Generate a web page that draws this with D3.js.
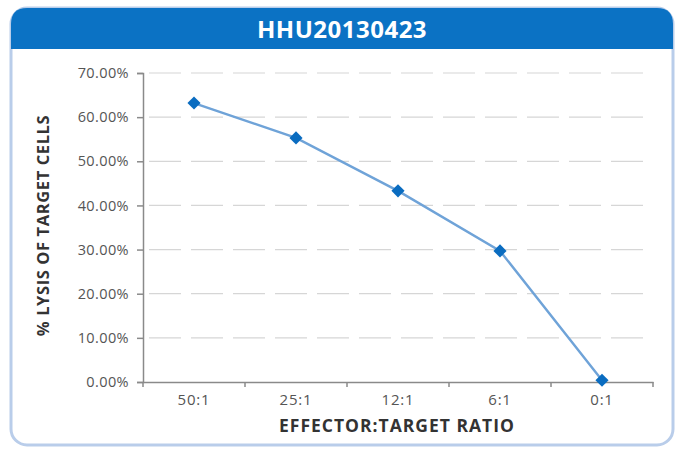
<!DOCTYPE html>
<html>
<head>
<meta charset="utf-8">
<script src="https://cdn.jsdelivr.net/npm/d3@7"></script>
<style>
  html, body { margin: 0; padding: 0; background: #ffffff; }
  svg { display: block; font-family: "Open Sans", "Noto Sans", sans-serif; }
</style>
</head>
<body>
<svg id="chart" width="676" height="450"></svg>
<script>
// Effector:target ratios and measured lysis
const ratios = ["50:1", "25:1", "12:1", "6:1", "0:1"];
const lysis = [0.632, 0.553, 0.433, 0.297, 0.004];
const yTicks = [0, 0.1, 0.2, 0.3, 0.4, 0.5, 0.6, 0.7];
const chartTitle = "HHU20130423";
const xTitle = "EFFECTOR:TARGET RATIO";
const yTitle = "% LYSIS OF TARGET CELLS";

const svg = d3.select("#chart");

// Card with rounded border and blue header
const card = { x: 11, y: 8, w: 662, h: 437, r: 16 };
svg.append("rect")
  .attr("x", card.x).attr("y", card.y)
  .attr("width", card.w).attr("height", card.h)
  .attr("rx", card.r)
  .attr("fill", "#ffffff")
  .attr("stroke", "#b9cdea").attr("stroke-width", 3);

const hb = { x: card.x, y: card.y, w: card.w, h: 41, r: card.r };
svg.append("path")
  .attr("d", `M${hb.x},${hb.y + hb.h} V${hb.y + hb.r} Q${hb.x},${hb.y} ${hb.x + hb.r},${hb.y}
    H${hb.x + hb.w - hb.r} Q${hb.x + hb.w},${hb.y} ${hb.x + hb.w},${hb.y + hb.r} V${hb.y + hb.h} Z`)
  .attr("fill", "#0b72c4");

svg.append("text")
  .attr("x", 342).attr("y", 38)
  .attr("text-anchor", "middle")
  .attr("fill", "#ffffff")
  .attr("font-size", 24).attr("font-weight", "bold")
  .attr("letter-spacing", 0.5)
  .text(chartTitle);

// Plot area
const plot = { left: 143, right: 653, top: 73, bottom: 382 };

const x = d3.scaleBand().domain(ratios).range([plot.left, plot.right]);
const y = d3.scaleLinear().domain([0, 0.7]).range([plot.bottom, plot.top]);

// Dashed horizontal gridlines
svg.append("g")
  .selectAll("line")
  .data(yTicks.filter(d => d > 0))
  .join("line")
  .attr("x1", plot.left + 6).attr("x2", plot.right)
  .attr("y1", d => y(d)).attr("y2", d => y(d))
  .attr("stroke", "#d6d6d6").attr("stroke-width", 1.2)
  .attr("stroke-dasharray", "32,10");

// Y axis
const yAxis = svg.append("g")
  .attr("transform", `translate(${plot.left},0)`)
  .call(d3.axisLeft(y).tickValues(yTicks).tickFormat(d3.format(".2%")).tickSize(6).tickPadding(8));
yAxis.select(".domain").attr("stroke", "#8a8a8a").attr("stroke-width", 1.5);
yAxis.selectAll(".tick line").attr("stroke", "#8a8a8a").attr("stroke-width", 1.5);
yAxis.selectAll(".tick text")
  .attr("fill", "#555555").attr("font-size", 14.5).attr("letter-spacing", 0.4)
  .attr("font-family", "\"Open Sans\", sans-serif");

// X axis with boundary ticks between categories
const xAxis = svg.append("g")
  .attr("transform", `translate(0,${plot.bottom})`)
  .call(d3.axisBottom(x).tickSize(0).tickPadding(12));
xAxis.select(".domain").attr("stroke", "#8a8a8a").attr("stroke-width", 1.5);
xAxis.selectAll(".tick text")
  .attr("fill", "#555555").attr("font-size", 15).attr("letter-spacing", 0.8)
  .attr("font-family", "\"Open Sans\", sans-serif");

const boundaries = ratios.map(r => x(r)).concat([x(ratios[ratios.length - 1]) + x.bandwidth()]);
svg.append("g")
  .selectAll("line")
  .data(boundaries)
  .join("line")
  .attr("x1", d => d).attr("x2", d => d)
  .attr("y1", plot.bottom).attr("y2", plot.bottom + 5)
  .attr("stroke", "#8a8a8a").attr("stroke-width", 1.5);

// Axis titles
svg.append("text")
  .attr("x", 397).attr("y", 432)
  .attr("text-anchor", "middle")
  .attr("fill", "#333333")
  .attr("font-size", 17.5).attr("font-weight", "bold")
  .attr("letter-spacing", 1)
  .text(xTitle);

svg.append("text")
  .attr("transform", `translate(49,${(plot.top + plot.bottom) / 2 - 2}) rotate(-90)`)
  .attr("text-anchor", "middle")
  .attr("fill", "#333333")
  .attr("font-size", 16.5).attr("font-weight", "bold")
  .attr("letter-spacing", 0.6)
  .text(yTitle);

// Series line and diamond markers
const pts = ratios.map((r, i) => [x(r) + x.bandwidth() / 2, y(lysis[i])]);
svg.append("path")
  .datum(pts)
  .attr("d", d3.line())
  .attr("fill", "none")
  .attr("stroke", "#6fa3d8").attr("stroke-width", 2.4);

svg.append("g")
  .selectAll("path")
  .data(pts)
  .join("path")
  .attr("transform", d => `translate(${d[0]},${d[1]})`)
  .attr("d", d3.symbol(d3.symbolDiamond2, 110))
  .attr("fill", "#0a6cc0");
</script>
</body>
</html>
